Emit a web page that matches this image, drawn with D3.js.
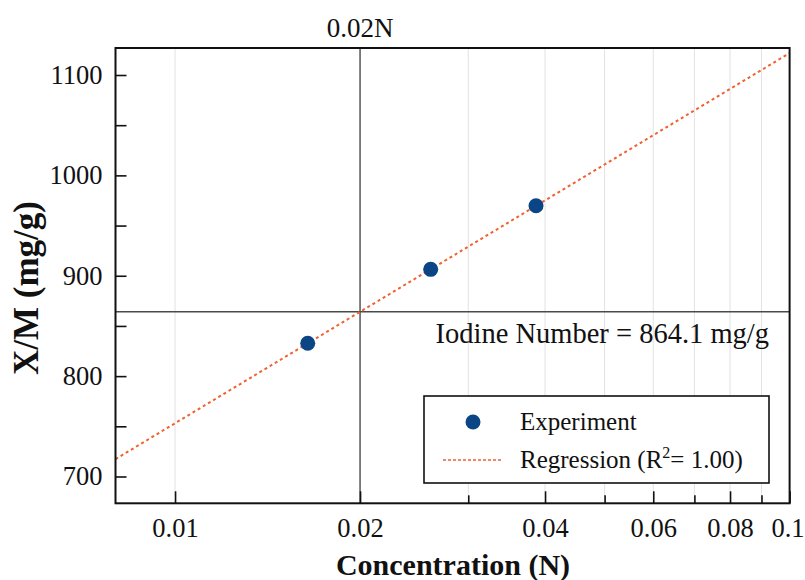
<!DOCTYPE html>
<html>
<head>
<meta charset="utf-8">
<script src="https://cdn.jsdelivr.net/npm/d3@7"></script>
<style>
  html, body { margin: 0; padding: 0; background: #fff; }
  svg { display: block; }
  svg text { font-family: "Liberation Serif", "Times New Roman", Times, serif; }
</style>
</head>
<body>
<svg id="chart" width="805" height="580"></svg>
<script>
// Adsorption data: concentration (N) vs X/M (mg/g)
const concentration = [0.01644, 0.02606, 0.03867];
const xOverM = [832.7, 906.4, 969.7];

const referenceConc = 0.02;        // vertical marker at 0.02N
const iodineNumber = 864.1;        // X/M at the reference concentration

const xTickValues = [0.01, 0.02, 0.04, 0.06, 0.08, 0.1];
const xTickLabels = ["0.01", "0.02", "0.04", "0.06", "0.08", "0.1"];
const xMinorValues = [0.03, 0.05, 0.07, 0.09];
const xGridValues = [0.01, 0.03, 0.04, 0.05, 0.06, 0.07, 0.08, 0.09];
const yTickValues = [700, 800, 900, 1000, 1100];
const yMinorValues = [750, 850, 950, 1050];

const svg = d3.select("#chart");

const x = d3.scaleLog().domain([0.008, 0.1]).range([115.5, 789.6]);
const y = d3.scaleLinear().domain([673.3, 1126.9]).range([503.3, 48]);

// Least-squares fit of X/M against log10(concentration)
const u = concentration.map(Math.log10);
const mu = d3.mean(u), my = d3.mean(xOverM);
const sxy = d3.sum(u, (ui, i) => (ui - mu) * (xOverM[i] - my));
const sxx = d3.sum(u, ui => (ui - mu) ** 2);
const slope = sxy / sxx, intercept = my - slope * mu;
const fit = c => intercept + slope * Math.log10(c);

const plot = svg.append("g");

// light vertical grid
plot.selectAll("line.grid").data(xGridValues).join("line")
  .attr("class", "grid")
  .attr("x1", d => x(d)).attr("x2", d => x(d))
  .attr("y1", y.range()[1]).attr("y2", y.range()[0])
  .attr("stroke", "#e2e2e2").attr("stroke-width", 1);

// reference lines
plot.append("line")
  .attr("x1", x(referenceConc)).attr("x2", x(referenceConc))
  .attr("y1", y.range()[1]).attr("y2", y.range()[0])
  .attr("stroke", "#4a4a4a").attr("stroke-width", 1.4);
plot.append("line")
  .attr("x1", x.range()[0]).attr("x2", x.range()[1])
  .attr("y1", y(iodineNumber)).attr("y2", y(iodineNumber))
  .attr("stroke", "#4a4a4a").attr("stroke-width", 1.4);

// regression line across the full x range
const xd = x.domain();
plot.append("line")
  .attr("x1", x(xd[0])).attr("y1", y(fit(xd[0])))
  .attr("x2", x(xd[1])).attr("y2", y(fit(xd[1])))
  .attr("stroke", "#f06030").attr("stroke-width", 2)
  .attr("stroke-dasharray", "3,3");

// experimental points
plot.selectAll("circle.pt").data(concentration).join("circle")
  .attr("class", "pt")
  .attr("cx", d => x(d)).attr("cy", (d, i) => y(xOverM[i]))
  .attr("r", 7.5).attr("fill", "#0b4585");

// axes (ticks pointing inward)
function styleAxis(g) {
  g.attr("font-family", null);
  g.select(".domain").remove();
  g.selectAll("line").attr("stroke", "#111").attr("stroke-width", 1.6);
  g.selectAll("text").attr("font-size", 26.5).attr("fill", "#111");
}
const xAxis = d3.axisBottom(x).tickValues(xTickValues)
  .tickFormat((d, i) => xTickLabels[i]).tickSizeInner(-12).tickSizeOuter(0).tickPadding(15);
const gx = svg.append("g").attr("transform", `translate(0,${y.range()[0]})`).call(xAxis).call(styleAxis);
// keep the last label inside the page edge
gx.selectAll(".tick").filter(d => d === 0.1).select("text")
  .attr("text-anchor", "end").attr("dx", 804 - x(0.1));

const xMinor = d3.axisBottom(x).tickValues(xMinorValues).tickFormat("").tickSizeInner(-8).tickSizeOuter(0);
svg.append("g").attr("transform", `translate(0,${y.range()[0]})`).call(xMinor).call(styleAxis);

const yAxis = d3.axisLeft(y).tickValues(yTickValues).tickFormat(d3.format("d"))
  .tickSizeInner(-11).tickSizeOuter(0).tickPadding(13);
svg.append("g").attr("transform", `translate(${x.range()[0]},0)`).call(yAxis).call(styleAxis);

const yMinor = d3.axisLeft(y).tickValues(yMinorValues).tickFormat("").tickSizeInner(-11).tickSizeOuter(0);
svg.append("g").attr("transform", `translate(${x.range()[0]},0)`).call(yMinor).call(styleAxis);

// plot frame
svg.append("rect")
  .attr("x", x.range()[0]).attr("y", y.range()[1])
  .attr("width", x.range()[1] - x.range()[0]).attr("height", y.range()[0] - y.range()[1])
  .attr("fill", "none").attr("stroke", "#111").attr("stroke-width", 2);

// annotations
svg.append("text").attr("x", x(referenceConc)).attr("y", 37)
  .attr("text-anchor", "middle").attr("font-size", 27).attr("fill", "#111")
  .text(referenceConc + "N");
svg.append("text").attr("x", 769).attr("y", y(iodineNumber) + 31)
  .attr("text-anchor", "end").attr("font-size", 28.5).attr("fill", "#111")
  .text(`Iodine Number = ${iodineNumber} mg/g`);

// axis titles
svg.append("text").attr("x", 453).attr("y", 575)
  .attr("text-anchor", "middle").attr("font-size", 30).attr("font-weight", "bold").attr("fill", "#111")
  .text("Concentration (N)");
svg.append("text")
  .attr("transform", "translate(38,288) rotate(-90)")
  .attr("text-anchor", "middle").attr("font-size", 35).attr("font-weight", "bold").attr("fill", "#111")
  .text("X/M (mg/g)");

// legend
const lg = svg.append("g").attr("transform", "translate(424,396)");
lg.append("rect").attr("width", 345).attr("height", 87)
  .attr("fill", "#fff").attr("stroke", "#111").attr("stroke-width", 1.6);
lg.append("circle").attr("cx", 49).attr("cy", 26).attr("r", 7.5).attr("fill", "#0b4585");
lg.append("text").attr("x", 96).attr("y", 34).attr("font-size", 25).attr("fill", "#111").text("Experiment");
lg.append("line").attr("x1", 19).attr("x2", 79).attr("y1", 64).attr("y2", 64)
  .attr("stroke", "#f06030").attr("stroke-width", 1.4).attr("stroke-dasharray", "3,2");
const rt = lg.append("text").attr("x", 96).attr("y", 72).attr("font-size", 25).attr("fill", "#111");
rt.append("tspan").text("Regression (R");
rt.append("tspan").attr("dy", -10).attr("font-size", 16).text("2");
rt.append("tspan").attr("dy", 10).text("= 1.00)");
</script>
</body>
</html>
